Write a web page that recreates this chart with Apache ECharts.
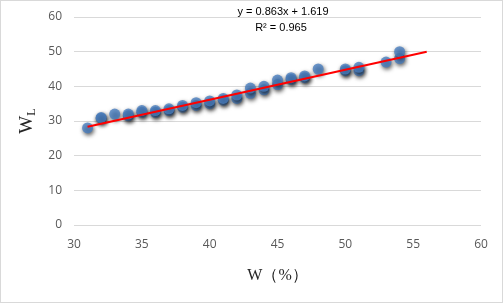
<!DOCTYPE html>
<html>
<head>
<meta charset="utf-8">
<script src="https://cdn.jsdelivr.net/npm/echarts@6/dist/echarts.min.js"></script>
<style>
  html, body {margin: 0; padding: 0; background: #fff;}
  #main {width: 503px; height: 303px; box-sizing: border-box; border: 1px solid #d9d9d9;}
</style>
</head>
<body>
<div id="main"></div>
<script>
// measured points (W, W_L)
var wVals  = [31, 32, 32, 33, 34, 34, 35, 35, 36, 36, 37, 37, 38, 38, 39, 39, 40, 40, 41, 41,
              42, 42, 43, 43, 44, 44, 45, 45, 46, 46, 47, 47, 48, 50, 50, 51, 51, 53, 54, 54];
var wlVals = [28, 30.8, 31, 32, 31.5, 32, 32.5, 33, 32.5, 33, 33, 33.5, 34, 34.5, 34.5, 35.3, 35, 35.8, 36, 36.5,
              36.5, 37.5, 38, 39.5, 39, 40, 40.5, 41.8, 42, 42.5, 42.5, 43, 45, 44.5, 45, 44.5, 45.5, 47, 48, 50];
// trend line end points
var trendX = [31, 56];
var trendY = [28.37, 49.95];
var xTicks = [30, 35, 40, 45, 50, 55, 60];
var yTicks = [0, 10, 20, 30, 40, 50, 60];
var eqText = 'y = 0.863x + 1.619';
var r2Text = 'R\u00b2 = 0.965';

var points = [];
for (var i = 0; i < wVals.length; i++) {
    points.push([wVals[i], wlVals[i]]);
}
var trend = [];
for (var j = 0; j < trendX.length; j++) {
    trend.push([trendX[j], trendY[j]]);
}

var labelFont = {color: '#595959', fontSize: 12, fontFamily: 'Open Sans'};

var chart = echarts.init(document.getElementById('main'));
chart.setOption({
    animation: false,
    grid: {left: 73, right: 21, top: 16, bottom: 77},
    xAxis: {
        type: 'value',
        min: xTicks[0],
        max: xTicks[xTicks.length - 1],
        interval: 5,
        splitLine: {show: false},
        axisLine: {show: false},
        axisTick: {show: false},
        axisLabel: Object.assign({margin: 14}, labelFont),
        name: 'W\uff08%\uff09',
        nameLocation: 'middle',
        nameGap: 43,
        nameTextStyle: {color: '#262626', fontSize: 16, fontFamily: 'Liberation Serif'}
    },
    yAxis: {
        type: 'value',
        min: yTicks[0],
        max: yTicks[yTicks.length - 1],
        interval: 10,
        splitLine: {lineStyle: {color: '#d9d9d9', width: 1}},
        axisLine: {show: false},
        axisTick: {show: false},
        axisLabel: Object.assign({margin: 12}, labelFont),
        name: '{w|W}{s|L}',
        nameLocation: 'middle',
        nameGap: 36,
        nameRotate: 90,
        nameTextStyle: {
            rich: {
                w: {fontSize: 19, fontFamily: 'Liberation Serif', color: '#262626'},
                s: {fontSize: 12, fontFamily: 'Liberation Serif', color: '#262626', padding: [9, 0, 0, 0]}
            }
        }
    },
    graphic: [
        {type: 'text', x: 282, y: 5, style: {text: eqText, fill: '#000', font: '11px "Liberation Sans"', textAlign: 'center'}},
        {type: 'text', x: 280, y: 21, style: {text: r2Text, fill: '#000', font: '11px "Liberation Sans"', textAlign: 'center'}}
    ],
    series: [{
        type: 'scatter',
        data: points,
        symbolSize: 11,
        itemStyle: {
            color: '#4a7ebf',
            shadowColor: 'rgba(0,0,0,0.8)',
            shadowBlur: 4,
            shadowOffsetX: 1,
            shadowOffsetY: 2
        },
        z: 2
    }, {
        type: 'line',
        data: trend,
        showSymbol: false,
        lineStyle: {color: '#ff0000', width: 2},
        z: 3
    }]
});
</script>
</body>
</html>
